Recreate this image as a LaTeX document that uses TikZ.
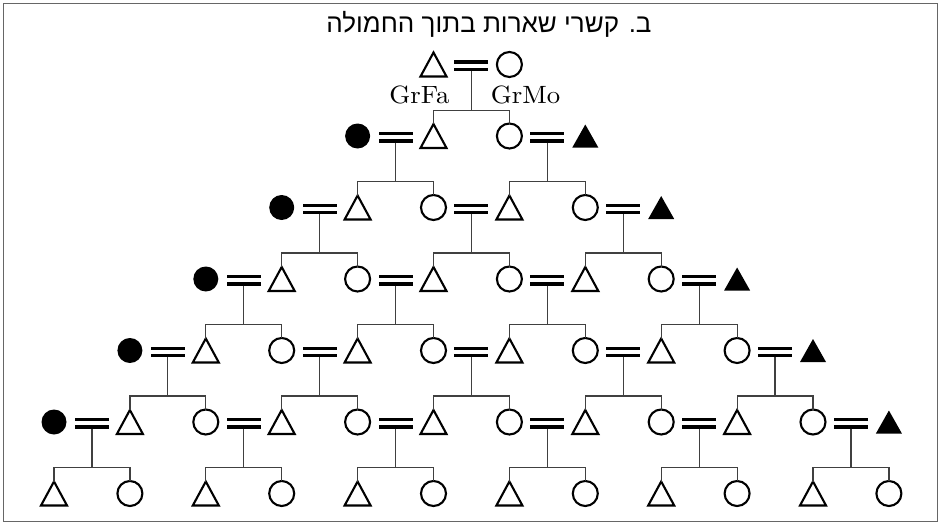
\documentclass[tikz,border=0pt]{standalone}
\usepackage{fontspec}
\newfontfamily\hebfont[Script=Hebrew]{Liberation Sans}
\newfontfamily\lmten{lmroman10-regular.otf}
\TeXXeTstate=1
\tikzset{
  shp/.style={line width=2.1pt, draw=black, line join=miter},
  conn/.style={line width=1.2pt, draw=black!75},
  person/.style={inner sep=0pt, outer sep=0pt},
  male/.style={person, minimum width=26pt, minimum height=24pt,
    append after command={\pgfextra{\draw[shp] (\tikzlastnode.north) -- (\tikzlastnode.south east) -- (\tikzlastnode.south west) -- cycle;}}},
  fmale/.style={person, minimum width=26pt, minimum height=23pt,
    append after command={\pgfextra{\fill[black] (\tikzlastnode.north) -- (\tikzlastnode.south east) -- (\tikzlastnode.south west) -- cycle;}}},
  fem/.style={person, circle, minimum size=25pt, draw=black, line width=2.1pt},
  fcirc/.style={person, circle, minimum size=25pt, fill=black},
  marr/.style={person, minimum width=34pt, minimum height=10.6pt,
    append after command={\pgfextra{
      \fill[black] (\tikzlastnode.north west) rectangle ([yshift=-3.3pt]\tikzlastnode.north east);
      \fill[black] ([yshift=3.3pt]\tikzlastnode.south west) rectangle (\tikzlastnode.south east);}}},
  lbl/.style={inner sep=0pt, font=\lmten\fontsize{25}{30}\selectfont},
  ttl/.style={inner sep=0pt, font=\hebfont\fontsize{26}{30}\selectfont},
  frame/.style={line width=1.5pt, draw=black!60}
}
\begin{document}
\begin{tikzpicture}[x=1pt,y=-1pt]
\useasboundingbox (0,0) rectangle (941,524);
\draw[frame] (3.5,3.5) rectangle (937.5,521.5);
\node[ttl, anchor=base] (title) at (489,33) {\beginR ב. קשרי שארות בתוך החמולה\endR};
% row 0
\node[male] (n-0-5) at ({54+75.9*5},64.5) {};
\node[fem] (n-0-6) at ({54+75.9*6},64.5) {};
\node[marr] (m-0-5) at ({54+75.9*5.5},65.8) {};
\node[lbl, anchor=base] (grfa) at (419.5,103) {\scalebox{1.07}[1]{GrFa}};
\node[lbl, anchor=base] (grmo) at (525.5,103) {\scalebox{1.07}[1]{GrMo}};
% rows 1..5
\foreach \r in {1,...,5}{
  \foreach \j in {0,...,\r}{
    \pgfmathtruncatemacro\a{5-\r+2*\j}
    \pgfmathtruncatemacro\b{\a+1}
    \pgfmathsetmacro\ya{64.5+71.5*\r}
    \ifnum\j=0
      \node[fcirc] (n-\r-\a) at ({54+75.9*\a},\ya) {};
    \else
      \node[fem] (n-\r-\a) at ({54+75.9*\a},\ya) {};
    \fi
    \ifnum\j=\r
      \node[fmale] (n-\r-\b) at ({54+75.9*\b},\ya) {};
    \else
      \node[male] (n-\r-\b) at ({54+75.9*\b},\ya) {};
    \fi
    \node[marr] (m-\r-\a) at ({54+75.9*(\a+0.5)},\ya+1.3) {};
  }
}
% row 6
\foreach \p in {0,...,11}{
  \ifodd\p
    \node[fem] (n-6-\p) at ({54+75.9*\p},493.5) {};
  \else
    \node[male] (n-6-\p) at ({54+75.9*\p},493.5) {};
  \fi
}
% connectors
\coordinate (j-0-5) at ({54+75.9*5.5},110.5);
\draw[conn] (m-0-5.south) -- (j-0-5);
\draw[conn] (n-1-5.north) |- (j-0-5) -| (n-1-6.north);
\foreach \r in {1,...,5}{
  \foreach \j in {0,...,\r}{
    \pgfmathtruncatemacro\a{5-\r+2*\j}
    \pgfmathtruncatemacro\b{\a+1}
    \pgfmathtruncatemacro\rn{\r+1}
    \pgfmathsetmacro\yj{64.5+71.5*\r+45.5}
    \coordinate (j-\r-\a) at ({54+75.9*(\a+0.5)},\yj);
    \draw[conn] (m-\r-\a.south) -- (j-\r-\a);
    \draw[conn] (n-\rn-\a.north) |- (j-\r-\a) -| (n-\rn-\b.north);
  }
}
\end{tikzpicture}
\end{document}
